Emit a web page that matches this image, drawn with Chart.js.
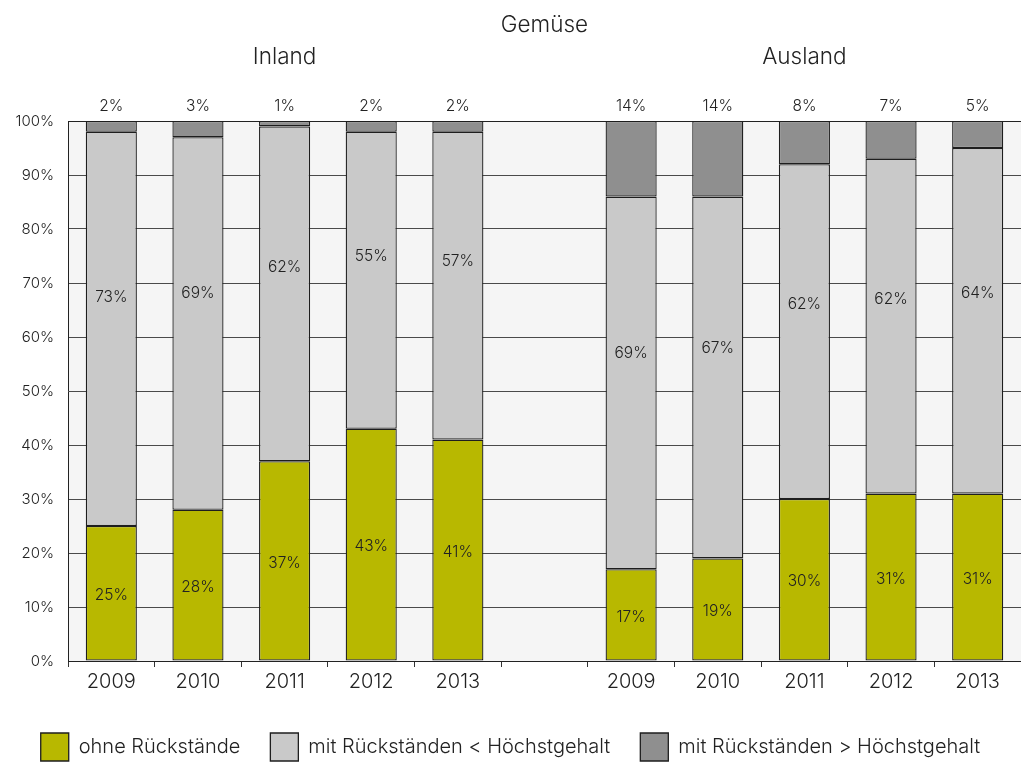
<!DOCTYPE html>
<html>
<head>
<meta charset="utf-8">
<script src="https://cdn.jsdelivr.net/npm/chart.js@4"></script>
<style>
html,body{margin:0;padding:0;background:#fff;}
#wrap{width:1021px;height:763px;position:relative;}
</style>
</head>
<body>
<div id="wrap"><canvas id="c" width="1021" height="763"></canvas></div>
<script>
// ---- data ----
const chartTitle = 'Gemüse';
const groupTitles = ['Inland', 'Ausland'];
const categories = ['2009','2010','2011','2012','2013','','2009','2010','2011','2012','2013'];
const ohneRueckstaende = [25, 28, 37, 43, 41, null, 17, 19, 30, 31, 31];
const unterHoechstgehalt = [73, 69, 62, 55, 57, null, 69, 67, 62, 62, 64];
const ueberHoechstgehalt = [2, 3, 1, 2, 2, null, 14, 14, 8, 7, 5];
const seriesNames = ['ohne Rückstände', 'mit Rückständen < Höchstgehalt', 'mit Rückständen > Höchstgehalt'];

const FONT = 'Inter, Roboto, "Liberation Sans", sans-serif';
const TXT = '#222';

const decorPlugin = {
  id: 'decor',
  beforeDraw(chart) {
    const {ctx, chartArea: a} = chart;
    ctx.save();
    ctx.fillStyle = '#f5f5f5';
    ctx.fillRect(a.left, a.top, a.right - a.left, a.bottom - a.top);
    ctx.restore();
  },
  afterDatasetsDraw(chart) {
    const {ctx, chartArea: a} = chart;
    const x = chart.scales.x;
    ctx.save();
    ctx.fillStyle = TXT;
    ctx.textAlign = 'center';
    ctx.textBaseline = 'middle';
    // titles
    ctx.font = '300 22.5px ' + FONT;
    ctx.fillText(chartTitle, (a.left + a.right) / 2, 25);
    ctx.fillText(groupTitles[0], x.getPixelForValue(2), 57);
    ctx.fillText(groupTitles[1], x.getPixelForValue(8), 57);
    // value labels
    ctx.font = '300 15.5px ' + FONT;
    chart.data.datasets.forEach((ds, di) => {
      const meta = chart.getDatasetMeta(di);
      meta.data.forEach((el, i) => {
        const v = ds.data[i];
        if (v === null || v === undefined) return;
        const top = Math.min(el.y, el.base), bot = Math.max(el.y, el.base);
        let y;
        if (di === 0) y = (top + bot) / 2 + 2;
        else if (di === 1) y = top + 0.42 * (bot - top);
        else y = a.top - 15;
        ctx.fillText(v + '%', el.x, y);
      });
    });
    ctx.restore();
  }
};

new Chart(document.getElementById('c'), {
  type: 'bar',
  data: {
    labels: categories,
    datasets: [
      {label: seriesNames[0], data: ohneRueckstaende, backgroundColor: '#b8b800', borderColor: '#1e1e1e', borderWidth: 1.3, borderSkipped: false},
      {label: seriesNames[1], data: unterHoechstgehalt, backgroundColor: '#c9c9c9', borderColor: '#1e1e1e', borderWidth: 1.3, borderSkipped: false},
      {label: seriesNames[2], data: ueberHoechstgehalt, backgroundColor: '#8f8f8f', borderColor: '#1e1e1e', borderWidth: 1.3, borderSkipped: false}
    ]
  },
  options: {
    responsive: false,
    animation: false,
    devicePixelRatio: 1,
    layout: {padding: {top: 121, left: 0, right: 0, bottom: 0}},
    datasets: {bar: {barPercentage: 0.59, categoryPercentage: 1}},
    scales: {
      x: {
        stacked: true,
        afterFit(s) { s.height = 42; },
        grid: {display: true, drawOnChartArea: false, drawTicks: true, tickLength: 6, color: '#333', offset: true},
        border: {display: true, color: '#222', width: 1},
        ticks: {color: TXT, font: {family: FONT, size: 20, weight: 300}, padding: 3, maxRotation: 0, autoSkip: false}
      },
      y: {
        stacked: true,
        min: 0, max: 100,
        afterFit(s) { s.width = 68; },
        grid: {drawTicks: false, color: (c) => c.tick && c.tick.value === 100 ? '#222' : '#4a4a4a', lineWidth: 1},
        border: {display: true, color: '#222', width: 1},
        ticks: {stepSize: 10, padding: 14, color: TXT, font: {family: FONT, size: 15, weight: 300}, callback: (v) => v + '%'}
      }
    },
    plugins: {
      legend: {
        position: 'bottom',
        maxHeight: 60,
        labels: {boxWidth: 28, boxHeight: 28, padding: 30, color: TXT, font: {family: FONT, size: 20, weight: 300}}
      },
      title: {display: false},
      tooltip: {enabled: false}
    }
  },
  plugins: [decorPlugin]
});
</script>
</body>
</html>
